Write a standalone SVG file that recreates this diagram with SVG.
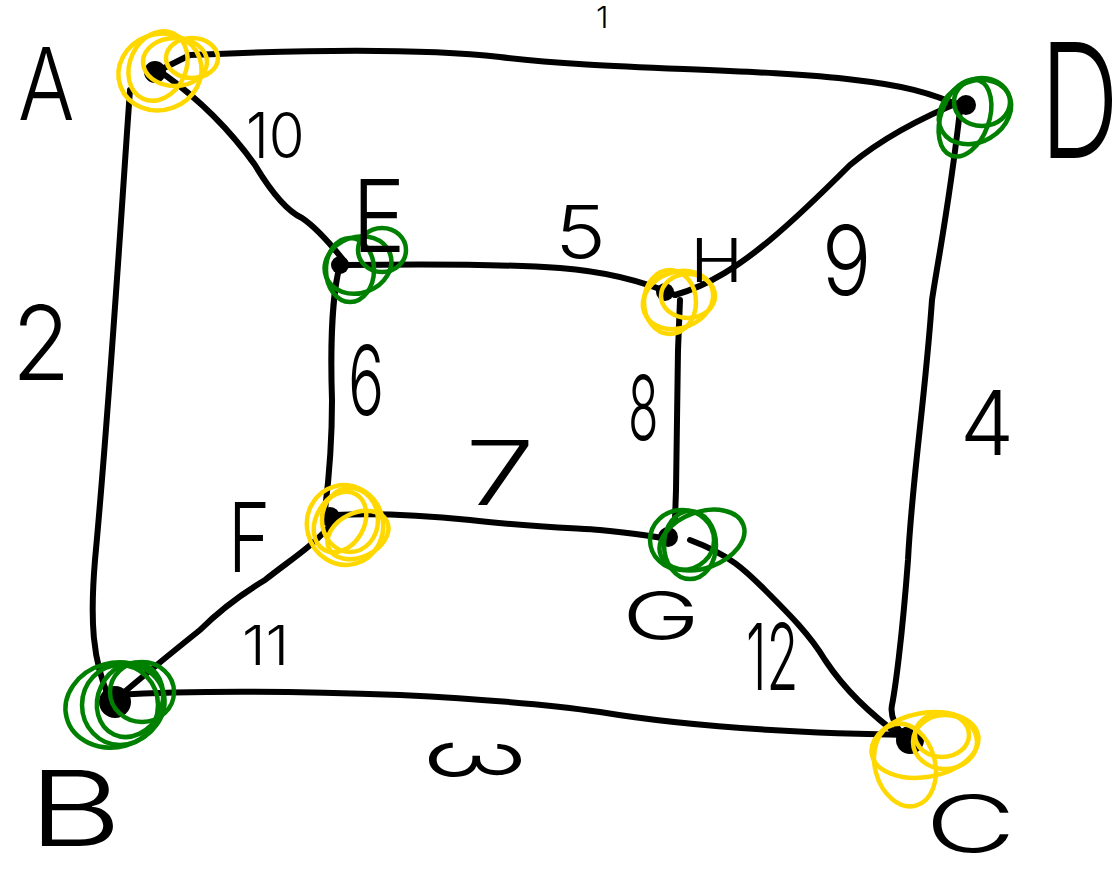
<svg xmlns="http://www.w3.org/2000/svg" width="1117" height="874" viewBox="0 0 1117 874">
<style>
.e{fill:none;stroke:#000;stroke-width:6;stroke-linecap:round;stroke-linejoin:round}
.dot{fill:#000}
.y{fill:none;stroke:#FFD800;stroke-width:4.5}
.g{fill:none;stroke:#008000;stroke-width:4.5}
.lbl,.num{font-family:Inter,Roboto,"Open Sans","DejaVu Sans",sans-serif;font-weight:300;font-size:100px;fill:#000}
</style>
<rect width="1117" height="874" fill="#fff"/>
<g id="connectors">
<path class="e" d="M160,70 L190,55 C300,50 420,48 500,57 C600,70 760,68 855,80 C900,85 930,92 965,108"/>
<path class="e" d="M130,90 C122,200 110,400 95,560 C90,620 92,660 110,700"/>
<path class="e" d="M165,75 C200,100 230,130 255,165 C270,190 285,210 302,218 C320,230 335,250 345,262"/>
<path class="e" d="M345,265 C420,264 500,264 560,268 C600,271 640,280 675,295"/>
<path class="e" d="M340,265 C333,290 330,340 332,400 C332,440 330,470 325,510"/>
<path class="e" d="M675,295 C710,285 740,265 770,240 C800,215 830,185 850,165 C880,140 920,118 965,100"/>
<path class="e" d="M680,300 L678,350 L677,420 L676,490 L675,520"/>
<path class="e" d="M960,110 C950,200 938,260 932,300 C925,400 912,480 908,560 C902,640 895,690 892,705 C890,715 895,730 910,740"/>
<path class="e" d="M335,515 C380,513 420,515 470,520 C520,526 570,528 600,530 C630,533 650,535 672,540"/>
<path class="e" d="M335,520 C315,545 290,560 265,580 C240,595 220,610 200,630 C175,650 150,670 115,700"/>
<path class="e" d="M115,695 C200,690 320,692 400,695 C460,698 540,703 600,712 C660,722 760,733 920,735"/>
<path class="e" d="M690,540 C730,555 745,570 765,590 C790,615 810,635 825,660 C845,690 868,712 905,740"/>
</g>
<g id="node-A">
<circle class="dot" cx="155" cy="72" r="11"/>
<ellipse class="y" cx="160" cy="72" rx="42" ry="38" transform="rotate(-20 160 72)"/>
<ellipse class="y" cx="175" cy="62" rx="32" ry="24"/>
<ellipse class="y" cx="158" cy="66" rx="28" ry="36" transform="rotate(25 158 66)"/>
<ellipse class="y" cx="192" cy="58" rx="26" ry="20"/>
<text class="lbl" transform="translate(18,120) scale(0.84,1)">A</text>
</g>
<g id="node-D">
<circle class="dot" cx="966" cy="105" r="10"/>
<ellipse class="g" cx="975" cy="112" rx="38" ry="30" transform="rotate(-30 975 112)"/>
<ellipse class="g" cx="965" cy="118" rx="24" ry="40" transform="rotate(20 965 118)"/>
<ellipse class="g" cx="982" cy="102" rx="28" ry="24"/>
<text class="lbl" transform="translate(1040,158) scale(1.1,1.6)">D</text>
</g>
<g id="node-E">
<circle class="dot" cx="340" cy="265" r="9"/>
<ellipse class="g" cx="358" cy="265" rx="34" ry="28" transform="rotate(-20 358 265)"/>
<ellipse class="g" cx="350" cy="270" rx="24" ry="32"/>
<ellipse class="g" cx="382" cy="250" rx="24" ry="22"/>
<text class="lbl" transform="translate(352,252) scale(0.9,1)">E</text>
</g>
<g id="node-H">
<circle class="dot" cx="665" cy="292" r="9"/>
<ellipse class="y" cx="678" cy="300" rx="36" ry="28" transform="rotate(-20 678 300)"/>
<ellipse class="y" cx="670" cy="302" rx="26" ry="32"/>
<ellipse class="y" cx="688" cy="296" rx="27" ry="22"/>
<text class="lbl" transform="translate(690,282) scale(0.72,0.6)">H</text>
</g>
<g id="node-F">
<circle class="dot" cx="330" cy="517" r="10"/>
<ellipse class="y" cx="345" cy="525" rx="38" ry="40" transform="rotate(-15 345 525)"/>
<ellipse class="y" cx="350" cy="520" rx="28" ry="32"/>
<ellipse class="y" cx="340" cy="522" rx="24" ry="32" transform="rotate(30 340 522)"/>
<ellipse class="y" cx="358" cy="535" rx="32" ry="22" transform="rotate(-25 358 535)"/>
<text class="lbl" transform="translate(228,572) scale(0.72,0.96)">F</text>
</g>
<g id="node-G">
<circle class="dot" cx="668" cy="537" r="10"/>
<ellipse class="g" cx="682" cy="540" rx="32" ry="30"/>
<ellipse class="g" cx="702" cy="540" rx="44" ry="28" transform="rotate(-20 702 540)"/>
<ellipse class="g" cx="690" cy="545" rx="26" ry="34"/>
<text class="lbl" transform="translate(622,640) scale(1.05,0.68)">G</text>
</g>
<g id="node-B">
<circle class="dot" cx="115" cy="702" r="16"/>
<ellipse class="g" cx="115" cy="705" rx="50" ry="42" transform="rotate(-15 115 705)"/>
<ellipse class="g" cx="120" cy="705" rx="38" ry="40"/>
<ellipse class="g" cx="130" cy="700" rx="32" ry="38" transform="rotate(25 130 700)"/>
<ellipse class="g" cx="142" cy="692" rx="32" ry="30"/>
<text class="lbl" transform="translate(28,846) scale(1.45,1.05)">B</text>
</g>
<g id="node-C">
<circle class="dot" cx="910" cy="740" r="14"/>
<ellipse class="y" cx="925" cy="745" rx="54" ry="32" transform="rotate(-10 925 745)"/>
<ellipse class="y" cx="945" cy="742" rx="32" ry="27"/>
<ellipse class="y" cx="905" cy="765" rx="30" ry="42" transform="rotate(-15 905 765)"/>
<ellipse class="y" cx="942" cy="735" rx="27" ry="22"/>
<text class="lbl" transform="translate(925,852) scale(1.25,0.78)">C</text>
</g>
<g id="labels">
<text class="num" transform="translate(596,28) scale(0.32,0.3)">1</text>
<text class="num" transform="translate(246,158) scale(0.58,0.63)">10</text>
<text class="num" transform="translate(12,380) scale(0.95,1.03)">2</text>
<text class="num" transform="translate(555,258) scale(0.86,0.73)">5</text>
<text class="num" transform="translate(822,295) scale(0.82,0.96)">9</text>
<text class="num" transform="translate(960,455) scale(0.86,0.89)">4</text>
<text class="num" transform="translate(348,415) scale(0.6,0.96)">6</text>
<text class="num" transform="translate(628,440) scale(0.5,0.89)">8</text>
<text class="num" transform="translate(465,505) scale(1.25,0.89)">7</text>
<text class="num" transform="translate(242,665) scale(0.6,0.55)">11</text>
<text class="num" transform="translate(746,690) scale(0.52,0.92)">12</text>
<text class="num" transform="translate(430,738) rotate(90) scale(0.72,1.23)">3</text>
</g>
</svg>
